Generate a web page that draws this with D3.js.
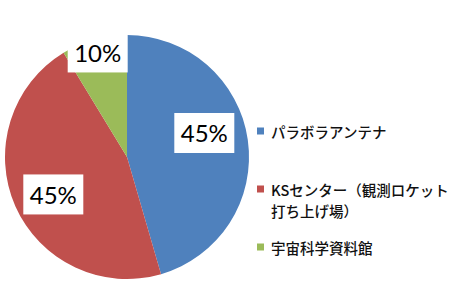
<!DOCTYPE html>
<html>
<head>
<meta charset="utf-8">
<script src="https://cdn.jsdelivr.net/npm/d3@7"></script>
<style>
  body { margin: 0; background: #fff; }
  svg { display: block; }
</style>
</head>
<body>
<div id="chart"></div>
<script>
// data
var categories = ['パラボラアンテナ', 'KSセンター（観測ロケット\n打ち上げ場）', '宇宙科学資料館'];
var shares = [45.5, 45.8, 8.7];          // slice sizes as drawn
var labelText = ['45%', '45%', '10%'];   // labels printed on the chart
var colors = ['#4F81BD', '#C0504D', '#9BBB59'];

var width = 460, height = 300;
var cx = 127, cy = 157, radius = 122;

var svg = d3.select('#chart')
    .append('svg')
    .attr('width', width)
    .attr('height', height);

var data = categories.map(function (c, i) {
    return { name: c, value: shares[i], label: labelText[i], color: colors[i] };
});

var pie = d3.pie()
    .sort(null)
    .value(function (d) { return d.value; });

var arc = d3.arc().innerRadius(0).outerRadius(radius);

var g = svg.append('g')
    .attr('transform', 'translate(' + cx + ',' + cy + ')');

var arcs = pie(data);

g.selectAll('path.slice')
    .data(arcs)
    .enter()
    .append('path')
    .attr('class', 'slice')
    .attr('d', arc)
    .attr('fill', function (d) { return d.data.color; });

// label placement (fraction of radius + small nudge)
var labelR = [0.64, 0.66, 0.89];
var labelDy = [-13, 5, 0];

arcs.forEach(function (a, i) {
    var la = d3.arc().innerRadius(radius * labelR[i]).outerRadius(radius * labelR[i]);
    var p = la.centroid(a);
    var lg = g.append('g')
        .attr('transform', 'translate(' + p[0] + ',' + (p[1] + labelDy[i]) + ')');
    var rect = lg.append('rect').attr('fill', '#fff');
    var t = lg.append('text')
        .attr('text-anchor', 'middle')
        .attr('dominant-baseline', 'central')
        .style('font-family', 'Lato, "Open Sans", sans-serif')
        .style('font-size', '24px')
        .style('fill', '#000')
        .text(a.data.label);
    var bb = t.node().getBBox();
    rect.attr('x', -30).attr('y', -20).attr('width', 60).attr('height', 40);
});

// legend
var legend = svg.append('g')
    .attr('transform', 'translate(257,0)');
var legendY = [131, 189, 247];

data.forEach(function (d, i) {
    var row = legend.append('g')
        .attr('transform', 'translate(0,' + legendY[i] + ')');
    row.append('rect')
        .attr('x', 0)
        .attr('y', -3.5)
        .attr('width', 7)
        .attr('height', 7)
        .attr('fill', d.color);
    var lines = d.name.split('\n');
    lines.forEach(function (ln, j) {
        row.append('text')
            .attr('x', 14)
            .attr('y', j * 21)
            .attr('dominant-baseline', 'central')
            .style('font-family', '"Noto Sans CJK JP", sans-serif')
            .style('font-size', '14.5px')
            .style('font-weight', '500')
            .style('fill', '#111')
            .text(ln);
    });
});
</script>
</body>
</html>
